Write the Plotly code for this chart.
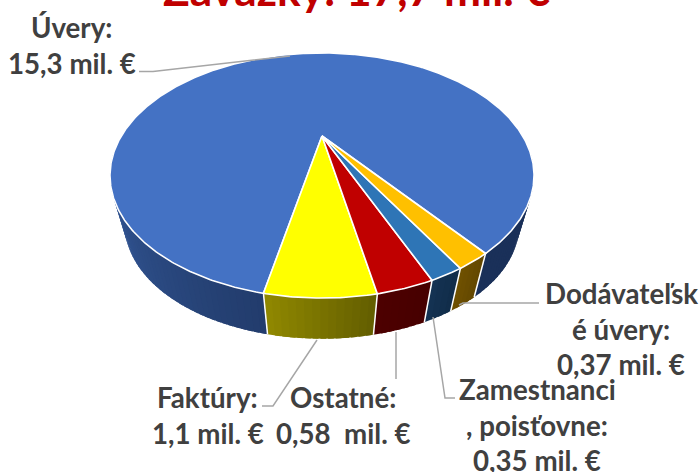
import numpy as np
import plotly.graph_objects as go

# --- data ---
categories = ["Úvery", "Faktúry", "Ostatné", "Zamestnanci, poisťovne", "Dodávateľské úvery"]
values = [15.3, 1.1, 0.58, 0.35, 0.37]
title_text = "Záväzky: 17,7 mil. €"
label_lines = [
    ["Úvery:", "15,3 mil. €"],
    ["Faktúry:", "1,1 mil. €"],
    ["Ostatné:", "0,58\u00a0 mil. €"],
    ["Zamestnanci", ", poisťovne:", "0,35 mil. €"],
    ["Dodávateľsk", "é úvery:", "0,37 mil. €"],
]

# --- style ---
top_colors = ["#4472c4", "#ffff00", "#c00000", "#2e75b6", "#ffc000"]
wall_from = ["#3a62a8", "#8f8700", "#4d0000", "#143252", "#6e5000"]
wall_to = ["#1a3059", "#645f00", "#470000", "#112d4a", "#644800"]
text_color = "#404040"
leader_color = "#a6a6a6"
font = "Lato, Carlito, sans-serif"

# --- projection of the tilted disc onto the page ---
CX, CY, R, B, K = 322.0, 136.0, 200.7, 109.8, 0.3225
SCALE, DROP = 0.93, 52.0
START = 37.3


def top_xy(theta):
    t = np.radians(theta)
    u, v = np.sin(t), np.cos(t)
    w = 1 - K * v
    return R * u / w, B * v / w


def project(theta, bottom=False):
    x, y = top_xy(theta)
    if bottom:
        return CX + SCALE * x, CY + SCALE * y + DROP
    return CX + x, CY + y


def hex_mix(a, b, f):
    ca = [int(a[i:i + 2], 16) for i in (1, 3, 5)]
    cb = [int(b[i:i + 2], 16) for i in (1, 3, 5)]
    f = min(1, max(0, f))
    return "rgb(%d,%d,%d)" % tuple(round(p + (q - p) * f) for p, q in zip(ca, cb))


total = sum(values)
edges = START + np.concatenate([[0], np.cumsum(values)]) / total * 360

fig = go.Figure()


def poly(xs, ys, fill, line_color, width):
    fig.add_trace(go.Scatter(
        x=list(xs), y=list(ys), mode="lines", fill="toself", fillcolor=fill,
        line=dict(color=line_color, width=width), hoverinfo="skip", showlegend=False))


def wall_quad(p, q, col):
    xt0, yt0 = project(p)
    xt1, yt1 = project(q)
    xb0, yb0 = project(p, True)
    xb1, yb1 = project(q, True)
    poly([xt0, xt1, xb1, xb0, xt0], [yt0, yt1, yb1, yb0, yt0], col, col, 0)


# side wall
for i in range(len(values)):
    a0, a1 = edges[i], edges[i + 1]
    n = max(2, int((a1 - a0) / 1.5))
    grid = np.linspace(a0, a1, n + 1)
    vis = [(p, q) for p, q in zip(grid[:-1], grid[1:]) if np.cos(np.radians((p + q) / 2)) > 0.1]
    for j, (p, q) in enumerate(vis):
        m = (p + q) / 2
        if i == 0:
            col = wall_to[0] if m < 180 else hex_mix(wall_from[0], "#223c6c", (m - 265) / (a1 - 265))
        else:
            col = hex_mix(wall_from[i], wall_to[i], j / max(1, len(vis) - 1))
        wall_quad(p, min(q + 1.2, a1), col)

# white seams on the wall
for a in edges[1:]:
    x0, y0 = project(a)
    x1, y1 = project(a, True)
    fig.add_trace(go.Scatter(x=[x0, x1], y=[y0, y1], mode="lines",
                             line=dict(color="white", width=1.5),
                             hoverinfo="skip", showlegend=False))

# top face
for i in range(len(values)):
    th = np.linspace(edges[i], edges[i + 1], max(8, int(edges[i + 1] - edges[i]) * 2))
    px, py = project(th)
    poly(np.r_[CX, px, CX], np.r_[CY, py, CY], top_colors[i], "white", 1.6)

fig.update_layout(
    width=700, height=472, autosize=False,
    margin=dict(l=0, r=0, t=0, b=0),
    paper_bgcolor="white", plot_bgcolor="white",
    xaxis=dict(range=[0, 700], visible=False, fixedrange=True),
    yaxis=dict(range=[472, 0], visible=False, fixedrange=True),
    showlegend=False,
)

# leader lines
leaders = [
    ([139, 153, 290], [71.5, 71.5, 56]),
    ([262, 273, 317], [406, 406, 340]),
    ([396, 396], [332, 379]),
    ([455, 445, 433], [398, 398, 317]),
    ([539, 463, 459], [303, 303, 305]),
]
for lx, ly in leaders:
    fig.add_trace(go.Scatter(x=lx, y=ly, mode="lines", line=dict(color=leader_color, width=1.5),
                             hoverinfo="skip", showlegend=False))

# labels: centre x and baseline of the first line, 36 px leading
label_pos = [(71.5, 36), (207.5, 406), (343, 406), (537, 398), (621, 302)]
FS = 27.7
for lines, (lx, base) in zip(label_lines, label_pos):
    for k, s in enumerate(lines):
        fig.add_annotation(x=lx, y=base + k * 35.7 - FS * 0.31, text="<b>%s</b>" % s, showarrow=False,
                           xanchor="center", yanchor="middle",
                           font=dict(family=font, size=FS, color=text_color))

# the title sits mostly above the page edge, as in the reference
TS = 44.2
fig.add_annotation(xref="paper", yref="paper", x=356.5 / 700, y=1 - (3 - TS * 0.33) / 472,
                   text="<b>%s</b>" % title_text, showarrow=False,
                   xanchor="center", yanchor="middle",
                   font=dict(family=font, size=TS, color="#c00000"))

fig.write_html("out.html", config=dict(displayModeBar=False),
               post_script="document.body.style.margin='0';document.body.style.overflow='hidden';")
